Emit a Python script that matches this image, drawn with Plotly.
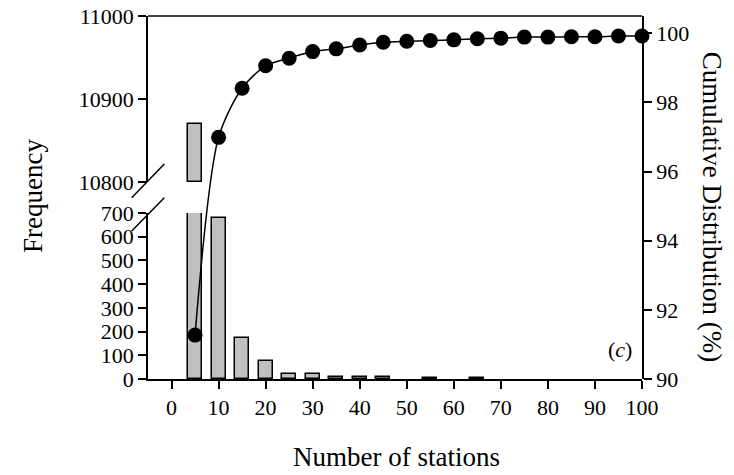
import plotly.graph_objects as go

# ---- data ----
bar_x = [5, 10, 15, 20, 25, 30, 35, 40, 45, 55, 65]
bar_freq = [10870, 678, 172, 76, 22, 20, 8, 10, 9, 3, 4]

cum_x = [5, 10, 15, 20, 25, 30, 35, 40, 45, 50, 55, 60, 65, 70, 75, 80, 85, 90, 95, 100]
cum_pct = [91.27, 96.99, 98.41, 99.06, 99.28, 99.47, 99.55, 99.66, 99.74, 99.77,
           99.79, 99.81, 99.84, 99.86, 99.89, 99.89, 99.90, 99.90, 99.92, 99.92]

x_ticks = [0, 10, 20, 30, 40, 50, 60, 70, 80, 90, 100]
low_ticks = [0, 100, 200, 300, 400, 500, 600, 700]
high_ticks = [10800, 10900, 11000]
right_ticks = [90, 92, 94, 96, 98, 100]

LOW_MAX = 700
HIGH_MIN = 10800
HIGH_MAX = 11000

FONT = "Liberation Serif"
BAR_FILL = "#c0c0c0"

# split into the two panels of the broken axis
low_vals = [min(v, LOW_MAX) for v in bar_freq]
hi_x = [x for x, v in zip(bar_x, bar_freq) if v > HIGH_MIN]
hi_vals = [v - HIGH_MIN for v in bar_freq if v > HIGH_MIN]

fig = go.Figure()

fig.add_trace(go.Bar(x=bar_x, y=low_vals, width=3, xaxis="x", yaxis="y",
                     marker=dict(color=BAR_FILL, line=dict(color="black", width=1.5)),
                     showlegend=False))
fig.add_trace(go.Bar(x=hi_x, y=hi_vals, base=HIGH_MIN, width=3, xaxis="x", yaxis="y3",
                     marker=dict(color=BAR_FILL, line=dict(color="black", width=1.5)),
                     showlegend=False))
fig.add_trace(go.Scatter(x=cum_x, y=cum_pct, xaxis="x", yaxis="y2", mode="lines+markers",
                         line=dict(color="black", width=1.5, shape="spline", smoothing=0.8),
                         marker=dict(color="black", size=15),
                         cliponaxis=False, showlegend=False))

axis_common = dict(showgrid=False, zeroline=False, showline=True, linecolor="black",
                   linewidth=1.5, ticks="outside", ticklen=8, tickwidth=1.5,
                   tickcolor="black", tickformat="d", ticklabeloverflow="allow",
                   tickfont=dict(family=FONT, size=22, color="black"))

fig.update_layout(
    width=734, height=475,
    margin=dict(l=148, r=92, t=16, b=96, autoexpand=False),
    paper_bgcolor="white", plot_bgcolor="rgba(0,0,0,0)",
    bargap=0, barmode="overlay",
    xaxis=dict(range=[-5, 100], tickvals=x_ticks, anchor="y", **axis_common),
    yaxis=dict(domain=[0, 0.4573], range=[0, LOW_MAX], tickvals=low_ticks,
               anchor="x", **axis_common),
    yaxis3=dict(domain=[0.5427, 1], range=[HIGH_MIN, HIGH_MAX], tickvals=high_ticks,
                anchor="x", **axis_common),
    yaxis2=dict(domain=[0, 1], range=[90, 100.5], tickvals=right_ticks, side="right",
                anchor="x", **axis_common),
    shapes=[
        dict(type="line", xref="paper", yref="paper", x0=0, x1=1, y0=1, y1=1,
             line=dict(color="black", width=1.5)),
        dict(type="line", xref="paper", yref="paper", x0=-0.033, x1=0.033,
             y0=0.4994, y1=0.5923, line=dict(color="black", width=1.5)),
        dict(type="line", xref="paper", yref="paper", x0=-0.033, x1=0.033,
             y0=0.4077, y1=0.4994, line=dict(color="black", width=1.5)),
    ],
    annotations=[
        dict(text="Frequency", xref="paper", yref="paper", x=-0.233, y=0.504,
             textangle=-90, showarrow=False, xanchor="center", yanchor="middle",
             font=dict(family=FONT, size=27, color="black")),
        dict(text="Cumulative Distribution (%)", xref="paper", yref="paper", x=1.142, y=0.474,
             textangle=90, showarrow=False, xanchor="center", yanchor="middle",
             font=dict(family=FONT, size=27, color="black")),
        dict(text="Number of stations", xref="paper", yref="paper", x=0.504, y=-0.215,
             showarrow=False, xanchor="center", yanchor="middle",
             font=dict(family=FONT, size=27, color="black")),
        dict(text="(<i>c</i>)", xref="paper", yref="paper", x=0.955, y=0.08,
             showarrow=False, xanchor="center", yanchor="middle",
             font=dict(family=FONT, size=22, color="black")),
    ],
)

# remove the browser's default 8px body margin so the figure fills the window
fig.write_html("out.html", config={"displayModeBar": False},
               post_script="document.body.style.margin='0';")
